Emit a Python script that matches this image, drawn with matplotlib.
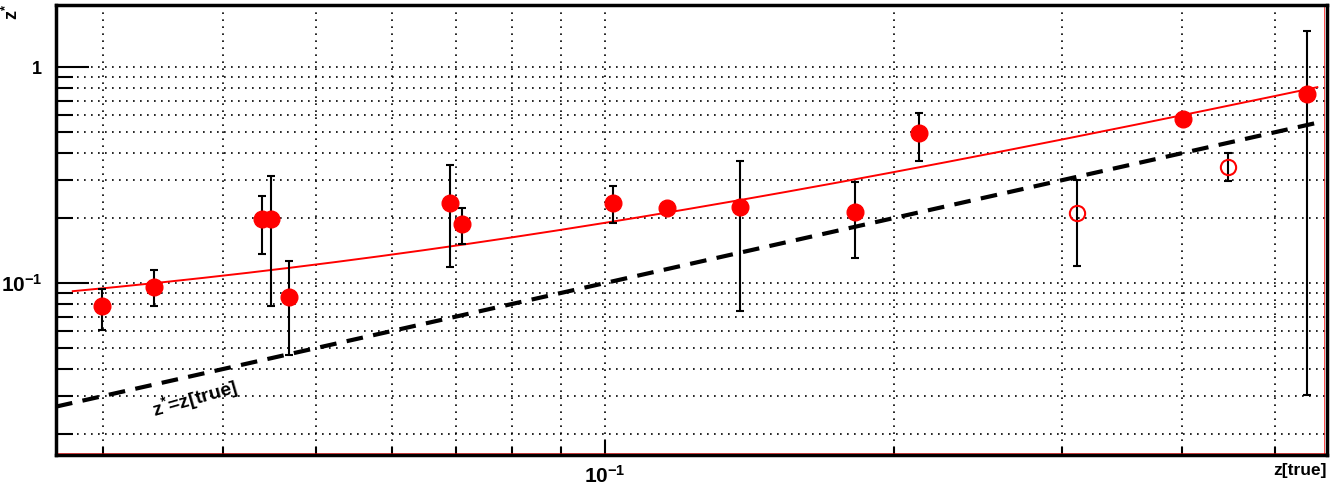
import numpy as np
import matplotlib
matplotlib.use("Agg")
import matplotlib.pyplot as plt
from matplotlib.ticker import FixedLocator, NullFormatter, FixedFormatter

plt.rcParams['font.family'] = ['Liberation Sans', 'DejaVu Sans']
plt.rcParams['font.weight'] = 'bold'
plt.rcParams['mathtext.fontset'] = 'custom'
plt.rcParams['mathtext.rm'] = 'Liberation Sans:bold'
plt.rcParams['mathtext.it'] = 'Liberation Sans:bold'
plt.rcParams['mathtext.bf'] = 'Liberation Sans:bold'

# measured points (z_true, z*, error bar low / high)
z_true = [0.0299, 0.0339, 0.0439, 0.0449, 0.0469, 0.0690, 0.0710, 0.1019,
          0.1160, 0.1382, 0.1822, 0.2124, 0.311, 0.401, 0.4467, 0.540]
z_star = [0.0782, 0.0958, 0.198, 0.198, 0.0861, 0.2347, 0.1876, 0.2347,
          0.2225, 0.2248, 0.2132, 0.4950, 0.2109, 0.5744, 0.3444, 0.750]
z_low = [0.0606, 0.0783, 0.1362, 0.0782, 0.0464, 0.1186, 0.1515, 0.1896,
         0.2190, 0.0742, 0.1305, 0.3671, 0.1199, 0.5500, 0.2967, 0.0303]
z_high = [0.0938, 0.1149, 0.2528, 0.3129, 0.1264, 0.3518, 0.2225, 0.2812,
          0.2260, 0.3671, 0.2935, 0.6124, 0.2998, 0.6000, 0.3999, 1.468]
filled = [True, True, True, True, True, True, True, True,
          True, True, True, True, False, True, False, True]

# linear fit drawn in red
fit_intercept = 0.0537
fit_slope = 1.364
fit_range = (0.0279, 0.553)

x_grid = [0.03, 0.04, 0.05, 0.06, 0.07, 0.08, 0.09, 0.1, 0.2, 0.3, 0.4, 0.5]
y_grid = [0.02, 0.03, 0.04, 0.05, 0.06, 0.07, 0.08, 0.09, 0.1,
          0.2, 0.3, 0.4, 0.5, 0.6, 0.7, 0.8, 0.9, 1.0]

xlim = (0.0268, 0.566)
ylim = (0.0160, 1.94)

fig = plt.figure(figsize=(13.39, 4.87), dpi=100)
ax = fig.add_axes([56 / 1339, 1 - 455 / 487, (1327 - 56) / 1339, (455 - 5) / 487])
ax.set_xscale('log')
ax.set_yscale('log')
ax.set_xlim(*xlim)
ax.set_ylim(*ylim)

grid_style = dict(color='black', lw=1.2, linestyle=(0, (1, 3.2)), zorder=1)
for gx in x_grid:
    ax.axvline(gx, **grid_style)
for gy in y_grid:
    ax.axhline(gy, **grid_style)

# z* = z[true] reference
xd = np.array([xlim[0], fit_range[1]])
ax.plot(xd, xd, color='black', lw=3, linestyle=(0, (4, 2.5)), zorder=3)
ax.text(0.0339, 0.0242, '$z^{*}$=z[true]', fontsize=14, rotation=16,
        rotation_mode='anchor', ha='left', va='baseline')

# fit line
xf = np.geomspace(fit_range[0], fit_range[1], 200)
ax.plot(xf, fit_intercept + fit_slope * xf, color='red', lw=1.4, zorder=3)

# points
zt = np.array(z_true)
zs = np.array(z_star)
err = np.array([zs - np.array(z_low), np.array(z_high) - zs])
ax.errorbar(zt, zs, yerr=err, fmt='none', ecolor='black', elinewidth=1.5,
            capsize=3, capthick=1.5, zorder=4)
fm = np.array(filled)
ax.plot(zt[fm], zs[fm], 'o', color='red', markersize=12, zorder=5)
ax.plot(zt[~fm], zs[~fm], 'o', markerfacecolor='none', markeredgecolor='red',
        markersize=11, markeredgewidth=1.5, zorder=5)

# ticks
ax.xaxis.set_major_locator(FixedLocator([0.1]))
ax.xaxis.set_major_formatter(FixedFormatter(['$10^{-1}$']))
ax.xaxis.set_minor_locator(FixedLocator([v for v in x_grid if v != 0.1]))
ax.xaxis.set_minor_formatter(NullFormatter())
ax.yaxis.set_major_locator(FixedLocator([0.1, 1.0]))
ax.yaxis.set_major_formatter(FixedFormatter(['$10^{-1}$', '1']))
ax.yaxis.set_minor_locator(FixedLocator([v for v in y_grid if v not in (0.1, 1.0)]))
ax.yaxis.set_minor_formatter(NullFormatter())
ax.tick_params(axis='both', which='both', direction='in', width=1.5, color='black')
ax.tick_params(axis='x', which='major', length=11, labelsize=15, pad=7)
ax.tick_params(axis='x', which='minor', length=6)
ax.tick_params(axis='y', which='major', length=24, labelsize=15, pad=10)
ax.tick_params(axis='y', which='minor', length=12)
for lab in ax.get_yticklabels():
    if lab.get_text() == '1':
        lab.set_fontsize(13)

for sp in ax.spines.values():
    sp.set_linewidth(2.5)
    sp.set_zorder(6)

# thin red frame lines inside the right and bottom borders
ax.plot([0.998, 0.998], [0, 1], transform=ax.transAxes, color='red', lw=0.5, zorder=5.5, clip_on=False)
ax.plot([0, 1], [0.004, 0.004], transform=ax.transAxes, color='red', lw=0.5, zorder=5.5, clip_on=False)

fig.text(1327 / 1339, 1 - 470 / 487, 'z[true]', fontsize=12.5, ha='right', va='center')
fig.text(12 / 1339, 1 - 3 / 487, '$z^{*}$', fontsize=13, rotation=90, ha='center', va='top')

fig.savefig('out.png', dpi=100)
